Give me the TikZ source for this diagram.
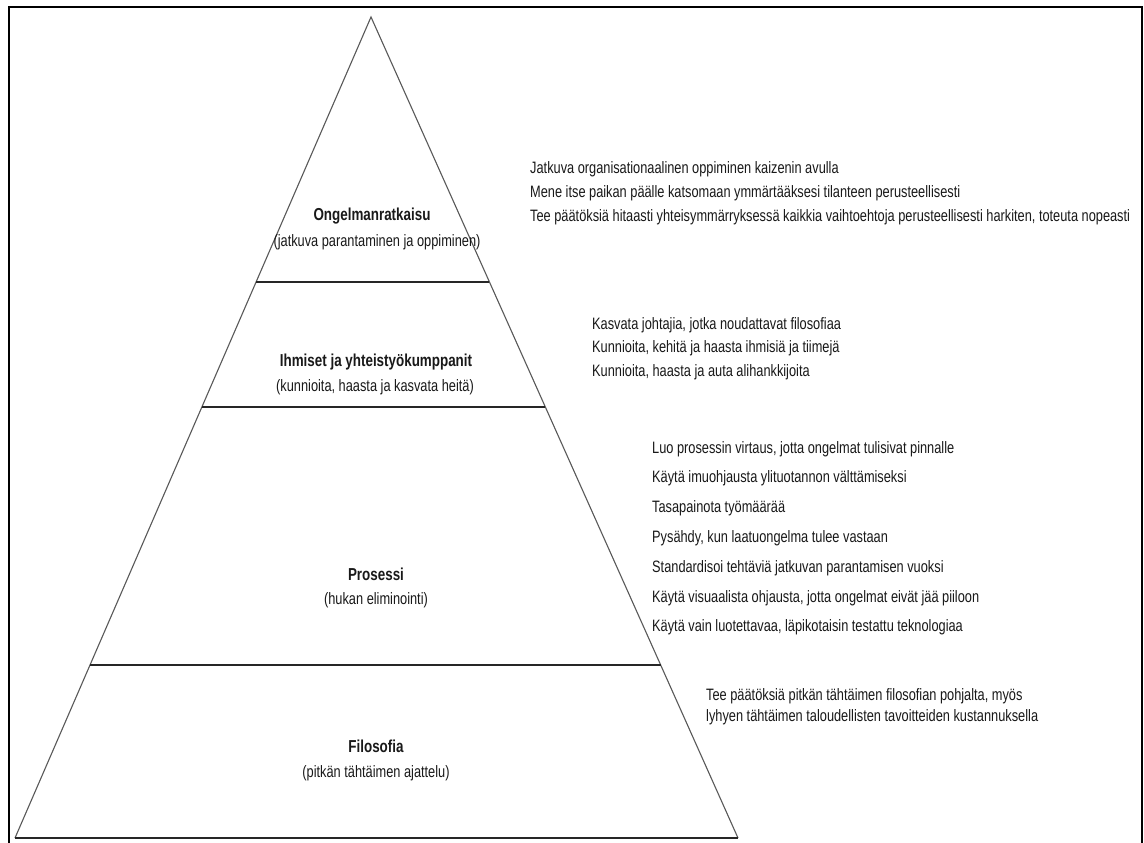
\documentclass[tikz,border=0pt]{standalone}
\usepackage{fontspec}
\setmainfont{Liberation Sans}
\newfontfamily\narrowfont[FakeStretch=0.775]{Liberation Sans}
\begin{document}
\begin{tikzpicture}[x=1pt,y=-1pt,
  frame/.style={line width=2.4pt,black},
  edge/.style={line width=1.1pt,black!65},
  divider/.style={line width=1.8pt,black!85},
  title/.style={font=\narrowfont\bfseries\fontsize{17.3}{22}\selectfont,text=black!90,inner sep=0pt,anchor=base},
  sub/.style={font=\narrowfont\fontsize{16.5}{22}\selectfont,text=black!90,inner sep=0pt,anchor=base},
  note/.style={font=\narrowfont\fontsize{16.5}{22}\selectfont,text=black!90,inner sep=0pt,anchor=base west}]
\useasboundingbox (0,0) rectangle (1144,843);
\fill[white] (0,0) rectangle (1144,843);
% outer frame (open at the bottom)
\draw[frame] (9,850) -- (9,7) -- (1142,7) -- (1142,850);
% pyramid outline
\coordinate (apex) at (371,17);
\coordinate (bl) at (15,838);
\coordinate (br) at (738,838);
\draw[edge,line join=miter] (bl) -- (apex) -- (br);
\draw[divider] (bl) -- (br);
% level dividers
\foreach \y/\n in {282/a,407/b,665/c}{
  \path (apex) -- (bl) coordinate[pos={(\y-17)/821}] (l\n);
  \path (apex) -- (br) coordinate[pos={(\y-17)/821}] (r\n);
  \draw[divider] (l\n) -- (r\n);
}
% level labels
\node[title] (t1) at (372,220) {Ongelmanratkaisu};
\node[sub] (s1) at (377,246) {(jatkuva parantaminen ja oppiminen)};
\node[title] (t2) at (376,366) {Ihmiset ja yhteistyökumppanit};
\node[sub] (s2) at (375,391) {(kunnioita, haasta ja kasvata heitä)};
\node[title] (t3) at (376,580) {Prosessi};
\node[sub] (s3) at (376,604) {(hukan eliminointi)};
\node[title] (t4) at (376,752) {Filosofia};
\node[sub] (s4) at (376,777) {(pitkän tähtäimen ajattelu)};
% principles for each level
\foreach \t [count=\i] in {
  {Jatkuva organisationaalinen oppiminen kaizenin avulla},
  {Mene itse paikan päälle katsomaan ymmärtääksesi tilanteen perusteellisesti},
  {Tee päätöksiä hitaasti yhteisymmärryksessä kaikkia vaihtoehtoja perusteellisesti harkiten, toteuta nopeasti}}
  \node[note] (na\i) at (530,{173+(\i-1)*24}) {\t};
\foreach \t [count=\i] in {
  {Kasvata johtajia, jotka noudattavat filosofiaa},
  {Kunnioita, kehitä ja haasta ihmisiä ja tiimejä},
  {Kunnioita, haasta ja auta alihankkijoita}}
  \node[note] (nb\i) at (592,{329+(\i-1)*23.5}) {\t};
\foreach \t [count=\i] in {
  {Luo prosessin virtaus, jotta ongelmat tulisivat pinnalle},
  {Käytä imuohjausta ylituotannon välttämiseksi},
  {Tasapainota työmäärää},
  {Pysähdy, kun laatuongelma tulee vastaan},
  {Standardisoi tehtäviä jatkuvan parantamisen vuoksi},
  {Käytä visuaalista ohjausta, jotta ongelmat eivät jää piiloon},
  {Käytä vain luotettavaa, läpikotaisin testattu teknologiaa}}
  \node[note] (nc\i) at (652,{453+(\i-1)*29.8}) {\t};
\foreach \t [count=\i] in {
  {Tee päätöksiä pitkän tähtäimen filosofian pohjalta, myös},
  {lyhyen tähtäimen taloudellisten tavoitteiden kustannuksella}}
  \node[note] (nd\i) at (706,{700+(\i-1)*21}) {\t};
\end{tikzpicture}
\end{document}
